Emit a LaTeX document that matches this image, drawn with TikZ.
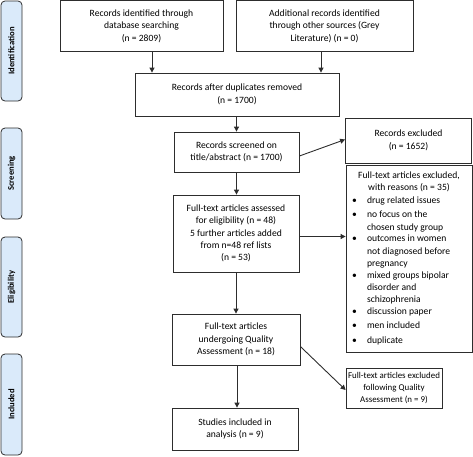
\documentclass[tikz,border=0pt]{standalone}
\usepackage{fontspec}
\setmainfont{Carlito}
\usetikzlibrary{arrows.meta,calc}
\definecolor{sidefill}{RGB}{218,234,250}
\definecolor{linegray}{RGB}{45,45,45}
\newcommand{\bitem}[1]{\noindent\makebox[15pt][l]{\textbullet}\parbox[t]{99pt}{\raggedright #1}\par}
\newcommand{\bgap}{\vspace{2.2pt}}
\begin{document}
\begin{tikzpicture}[x=1pt,y=-1pt,
  box/.style={draw=linegray,line width=0.8pt,fill=white,align=center,inner sep=2pt,font=\fontsize{9.6}{12.4}\selectfont},
  side/.style={draw=linegray,line width=0.8pt,fill=sidefill,rounded corners=4pt,rotate=90,font=\bfseries\fontsize{8.6}{10}\selectfont,inner sep=0pt},
  arr/.style={draw=linegray,line width=0.9pt,-{Triangle[length=5pt,width=5pt]}}]
\useasboundingbox (0,0) rectangle (473,456);
% side labels
\node[side,minimum height=21pt,minimum width=100pt] (sid) at (11.5,51) {Identification};
\node[side,minimum height=21pt,minimum width=91pt] (sscr) at (11.5,173.5) {Screening};
\node[side,minimum height=21pt,minimum width=100pt] (selig) at (11.5,287) {Eligibility};
\node[side,minimum height=21pt,minimum width=101pt] (sinc) at (11.5,404.5) {Included};
% boxes
\node[box,minimum width=163pt,minimum height=51pt] (b1) at (141.5,26) {Records identified through\\database searching\\(n = 2809)};
\node[box,minimum width=177pt,minimum height=51pt] (b2) at (324.5,26) {Additional records identified\\through other sources (Grey\\Literature) (n = 0)};
\node[box,minimum width=204pt,minimum height=43pt] (b3) at (237,94.5) {Records after duplicates removed\\(n = 1700)};
\node[box,minimum width=125pt,minimum height=40pt] (b4) at (236.5,152) {Records screened on\\title/abstract (n = 1700)};
\node[box,minimum width=126pt,minimum height=45pt] (b5) at (408.5,140.5) {Records excluded\\(n = 1652)};
\node[box,minimum width=126pt,minimum height=77pt] (b6) at (236,233.5) {Full-text articles assessed\\for eligibility (n = 48)\\5 further articles added\\from n=48 ref lists\\(n = 53)};
\node[box,minimum width=126pt,minimum height=187pt] (b7) at (409,258.5) {%
\begin{minipage}{114pt}\fontsize{9.6}{12.4}\selectfont\parindent=0pt\parskip=0pt
{\centering Full-text articles excluded,\\with reasons (n = 35)\par}
\bitem{drug related issues}\bgap
\bitem{no focus on the\\chosen study group}\bgap
\bitem{outcomes in women\\not diagnosed before\\pregnancy}\bgap
\bitem{mixed groups bipolar\\disorder and\\schizophrenia}\bgap
\bitem{discussion paper}\bgap
\bitem{men included}\bgap
\bitem{duplicate}
\end{minipage}};
\node[box,minimum width=128pt,minimum height=51pt] (b8) at (236,339.5) {Full-text articles\\undergoing Quality\\Assessment (n = 18)};
\node[box,minimum width=96pt,minimum height=40pt,font=\fontsize{8.9}{11.6}\selectfont] (b9) at (394,388) {Full-text articles excluded\\following Quality\\Assessment (n = 9)};
\node[box,minimum width=126pt,minimum height=42pt] (b10) at (235,429) {Studies included in\\analysis (n = 9)};
% connectors
\draw[arr] ([xshift=10.5pt]b1.south) -- ([xshift=10.5pt]b1.south |- b3.north);
\draw[arr] ([xshift=-3.5pt]b2.south) -- ([xshift=-3.5pt]b2.south |- b3.north);
\draw[arr] (b3.south -| b4.north) -- (b4.north);
\draw[arr] ([yshift=-4pt]b4.east) -- ([yshift=1pt]b5.west);
\draw[arr] (b4.south) -- (b4.south |- b6.north);
\draw[arr] ([yshift=-3pt]b6.east) -- ([yshift=-3pt]b6.east -| b7.west);
\draw[arr] (b6.south) -- (b6.south |- b8.north);
\draw[arr] ([yshift=-7pt]b8.east) -- ([yshift=-2pt]b9.west);
\draw[arr] ([xshift=1pt]b8.south) -- ([xshift=1pt]b8.south |- b10.north);
\end{tikzpicture}
\end{document}
